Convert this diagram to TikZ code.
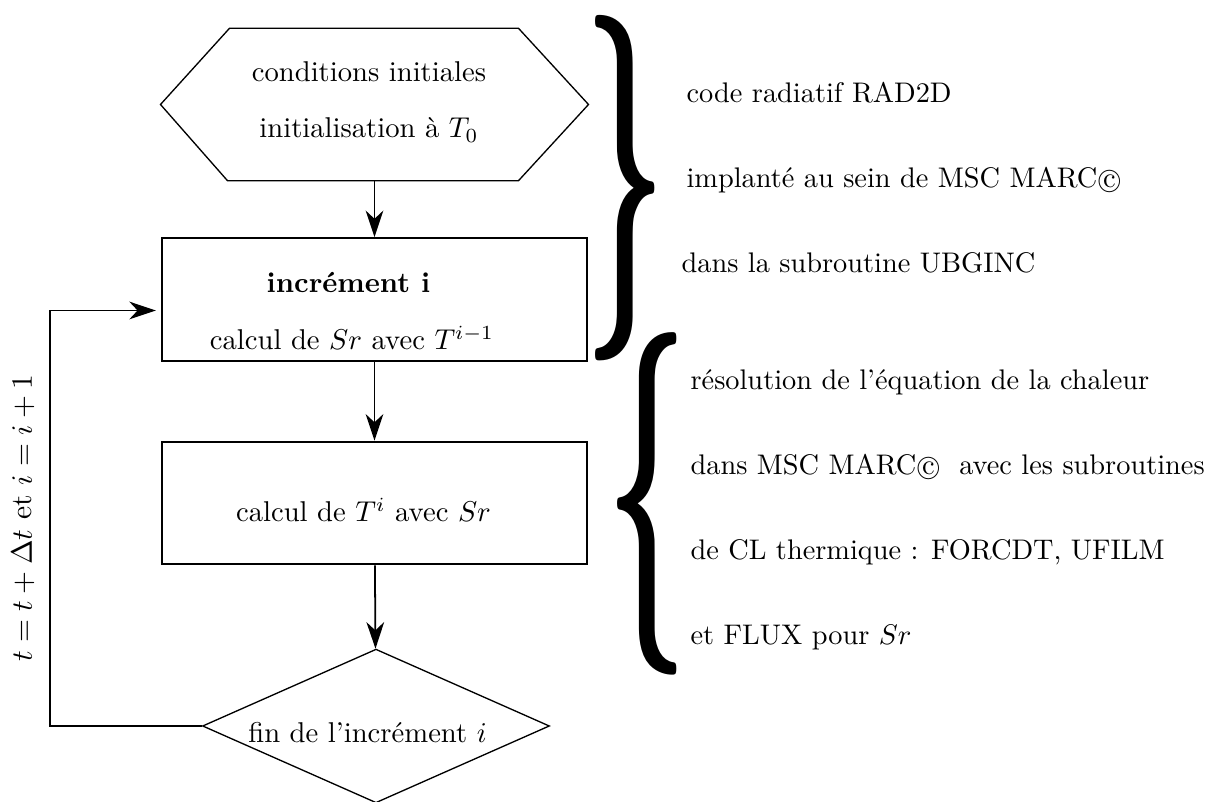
\documentclass[tikz,border=0pt]{standalone}
\usepackage{amsmath}
\usepackage{graphicx}
\usetikzlibrary{shapes.geometric,arrows.meta,calc}
\tikzstyle{line} = [draw, line width=0.6pt, -{Stealth[length=9pt,width=6pt,inset=2.8pt]}]
\tikzstyle{process} = [draw, line width=0.7pt, rectangle, minimum width=5.06cm, minimum height=1.46cm, inner sep=0pt]
\tikzstyle{decision} = [draw, line width=0.45pt, diamond, aspect=2.25, minimum width=4.13cm, minimum height=1.83cm, inner sep=0pt]
\tikzstyle{startbox} = [rectangle, minimum width=5.08cm, minimum height=1.80cm, inner sep=0pt]
\tikzstyle{txt} = [anchor=base, inner sep=0pt, scale=0.97]
\tikzstyle{note} = [anchor=base west, inner sep=0pt, scale=0.96]
\tikzstyle{bigbrace} = [inner sep=0pt]
\newcommand{\circc}{{\ooalign{\hfil\raise.07ex\hbox{c}\hfil\crcr\scalebox{0.85}{$\bigcirc$}}}}

\begin{document}
\begin{tikzpicture}[x=0.0119cm, y=-0.0119cm]
\useasboundingbox (0,0) rectangle (1212,802);
%
\node[startbox] (init) at (374.5,104.5) {};
\draw[line width=0.45pt] (init.west) -- ($(init.north west)+(69,0)$) -- ($(init.north east)+(-70,0)$)
  -- (init.east) -- ($(init.south east)+(-70,0)$) -- ($(init.south west)+(67,0)$) -- cycle;
\node[process] (incr) at (374.5,299.5) {};
\node[process] (temp) at (374.5,503) {};
\node[decision] (fin) at (376,726) {};
%
\path[line] (init) -- (incr);
\path[line] (incr) -- (temp);
\path[line] (temp) -- (fin);
\path[line] (fin.west) -- ++(-152,0) |- ($(incr.west)+(-5,11)$);
\node[rotate=90, inner sep=0pt] (update) at (23,518) {$t=t+\Delta t$ et $i=i+1$};
%
\node[txt] (initA) at (369,82) {conditions initiales};
\node[txt] (initB) at (369,138) {initialisation à $T_0$};
\node[txt] (incrA) at (348.5,293) {\textbf{incrément i}};
\node[txt] (incrB) at (352,350) {calcul de $Sr$ avec $T^{i-1}$};
\node[txt] (tempA) at (363.5,522) {calcul de $T^i$ avec $Sr$};
\node[txt] (finA) at (367.5,743) {fin de l’incrément $i$};
%
\node[bigbrace] (radbrace) at (625,188) {\scalebox{4.8}[11.7]{\boldmath$\}$}};
\node[bigbrace] (heatbrace) at (647,504) {\scalebox{4.8}[11.6]{\boldmath$\{$}};
%
\node[note] (radA) at (686,103) {code radiatif RAD2D};
\node[note] (radB) at (686,188) {implanté au sein de MSC MARC\circc};
\node[note] (radC) at (681,273) {dans la subroutine UBGINC};
%
\node[note] (heatA) at (690,390) {résolution de l’équation de la chaleur};
\node[note] (heatB) at (690,475) {dans MSC MARC\circc\ \ avec les subroutines};
\node[note] (heatC) at (690,560) {de CL thermique : FORCDT, UFILM};
\node[note] (heatD) at (690,645) {et FLUX pour $Sr$};
\end{tikzpicture}
\end{document}
